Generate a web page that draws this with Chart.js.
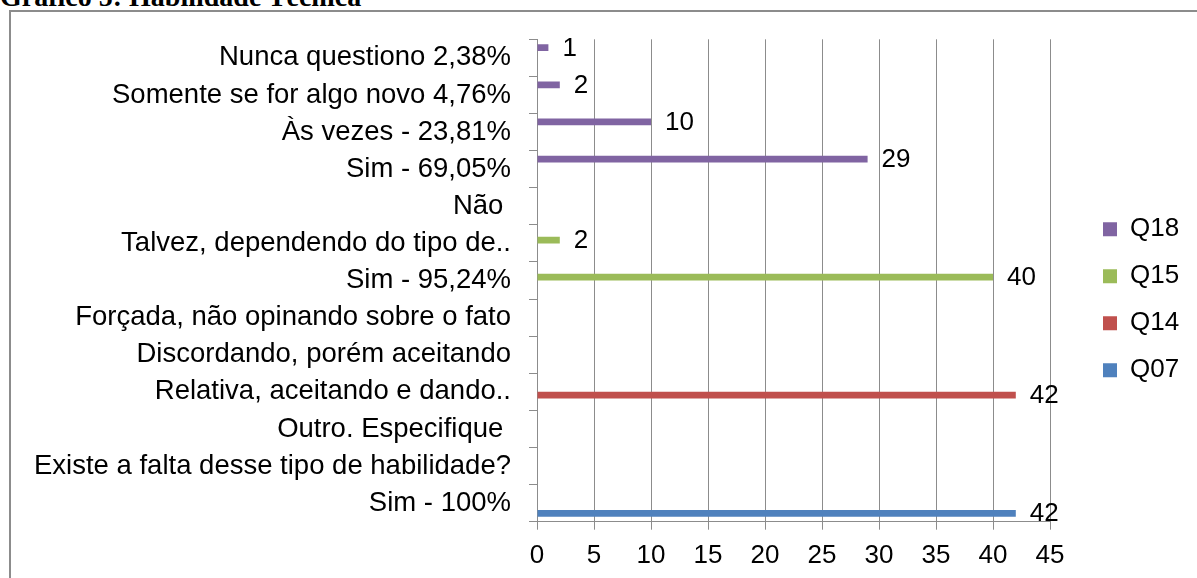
<!DOCTYPE html>
<html lang="pt">
<head>
<meta charset="utf-8">
<title>Gráfico 5: Habilidade Técnica</title>
<script src="https://cdn.jsdelivr.net/npm/chart.js@4.4.1/dist/chart.umd.min.js"></script>
<style>
  html, body { margin: 0; padding: 0; background: #ffffff; }
  body { width: 1197px; height: 578px; overflow: hidden; position: relative; }
  #titulo {
    position: absolute; left: 0; top: -19px; line-height: 32px;
    font: bold 28px "Liberation Serif", "Times New Roman", serif;
    color: #000; white-space: nowrap;
  }
  #moldura {
    position: absolute; left: 9px; top: 10px; width: 1300px; height: 700px;
    border-top: 2px solid #8c8c8c; border-left: 2px solid #8c8c8c;
  }
  #grafico { position: absolute; left: 0; top: 0; }
</style>
</head>
<body>
<div id="titulo">Gráfico 5: Habilidade Técnica</div>
<div id="moldura"></div>
<canvas id="grafico" width="1197" height="578"></canvas>
<script>
// Respostas (categorias de cima para baixo)
const categorias = [
  "Nunca questiono 2,38%",
  "Somente se for algo novo 4,76%",
  "Às vezes - 23,81%",
  "Sim - 69,05%",
  "Não ",
  "Talvez, dependendo do tipo de..",
  "Sim - 95,24%",
  "Forçada, não opinando sobre o fato",
  "Discordando, porém aceitando",
  "Relativa, aceitando e dando..",
  "Outro. Especifique ",
  "Existe a falta desse tipo de habilidade?",
  "Sim - 100%"
];

// Número de respondentes por questão
const q18 = [1, 2, 10, 29, null, null, null, null, null, null, null, null, null];
const q15 = [null, null, null, null, null, 2, 40, null, null, null, null, null, null];
const q14 = [null, null, null, null, null, null, null, null, null, 42, null, null, null];
const q07 = [null, null, null, null, null, null, null, null, null, null, null, null, 42];

const eixoX = { min: 0, max: 45, passo: 5 };

const FONTE = '"Liberation Sans", Arial, sans-serif';
const CINZA = '#8c8c8c';

// Escreve o valor de cada barra logo após a sua extremidade
const rotulosValor = {
  id: 'rotulosValor',
  afterDatasetsDraw(chart, args, opts) {
    const ctx = chart.ctx;
    ctx.save();
    ctx.font = opts.size + 'px ' + FONTE;
    ctx.fillStyle = opts.color;
    ctx.textAlign = 'left';
    ctx.textBaseline = 'middle';
    chart.data.datasets.forEach((ds, i) => {
      const meta = chart.getDatasetMeta(i);
      if (meta.hidden) return;
      meta.data.forEach((barra, j) => {
        const v = ds.data[j];
        if (v === null || v === undefined) return;
        ctx.fillText(String(v), barra.x + opts.offset, barra.y + opts.dy);
      });
    });
    ctx.restore();
  }
};

// Ajuste fino da posição da legenda depois do layout
const posicaoLegenda = {
  id: 'posicaoLegenda',
  afterLayout(chart, args, opts) {
    const lg = chart.legend;
    if (!lg) return;
    lg.left += opts.dx; lg.right += opts.dx;
    lg.top += opts.dy; lg.bottom += opts.dy;
  }
};

new Chart(document.getElementById('grafico'), {
  type: 'bar',
  data: {
    labels: categorias,
    datasets: [
      { label: 'Q18', data: q18, backgroundColor: '#8064A2' },
      { label: 'Q15', data: q15, backgroundColor: '#9BBB59' },
      { label: 'Q14', data: q14, backgroundColor: '#C0504D' },
      { label: 'Q07', data: q07, backgroundColor: '#4F81BD' }
    ]
  },
  options: {
    indexAxis: 'y',
    responsive: false,
    animation: false,
    devicePixelRatio: 1,
    categoryPercentage: 4 / 5.5,
    barPercentage: 1,
    layout: { padding: { top: 39.3, right: 47, bottom: 0, left: 0 } },
    scales: {
      y: {
        type: 'category',
        offset: true,
        grid: { offset: true, drawOnChartArea: false, drawTicks: true, tickLength: 8, color: CINZA, lineWidth: 1 },
        border: { display: true, color: CINZA, width: 1 },
        ticks: { color: '#000', font: { family: FONTE, size: 27.5 }, padding: 18, autoSkip: false },
        afterFit(scale) { scale.width = 537; }
      },
      x: {
        min: eixoX.min,
        max: eixoX.max,
        grid: { color: CINZA, lineWidth: 1, tickLength: 8, drawTicks: true },
        border: { display: true, color: CINZA, width: 1 },
        ticks: { stepSize: eixoX.passo, color: '#000', font: { family: FONTE, size: 26 }, padding: 11, maxRotation: 0 },
        afterFit(scale) { scale.height = 56.3; }
      }
    },
    plugins: {
      tooltip: { enabled: false },
      legend: {
        position: 'right',
        align: 'center',
        maxWidth: 100,
        labels: {
          color: '#000',
          font: { family: FONTE, size: 26 },
          boxWidth: 14,
          boxHeight: 14,
          padding: 21
        }
      },
      rotulosValor: { size: 26, color: '#000', offset: 14, dy: 1 },
      posicaoLegenda: { dx: 32, dy: -9 }
    }
  },
  plugins: [rotulosValor, posicaoLegenda]
});
</script>
</body>
</html>
